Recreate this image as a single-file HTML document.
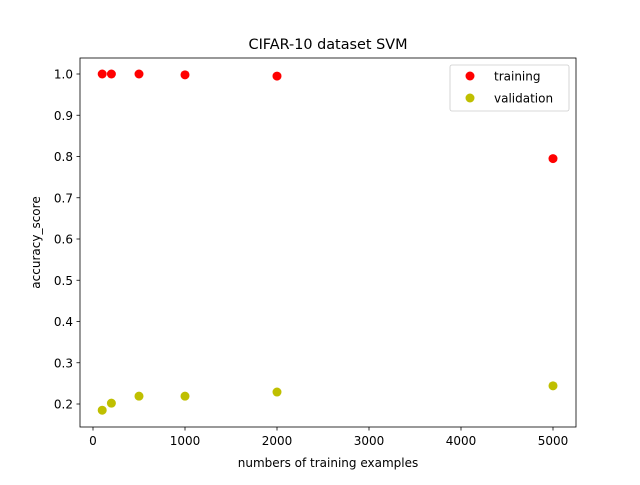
<!DOCTYPE html>
<html><head><meta charset="utf-8"><style>
body{margin:0;background:#fff;}
svg text{font-family:"DejaVu Sans","Liberation Sans",sans-serif;fill:#000;}
</style></head><body>
<svg id="chart" width="640" height="480" xmlns="http://www.w3.org/2000/svg">
<rect x="0" y="0" width="640" height="480" fill="#fff"/>
<text x="328" y="49" font-size="14.4" text-anchor="middle">CIFAR-10 dataset SVM</text>
<g id="axes"></g>
<rect x="80" y="58" width="496" height="369" fill="none" stroke="#000" stroke-width="0.8"/>
<text x="328" y="467" font-size="12" text-anchor="middle">numbers of training examples</text>
<text transform="translate(40,242.5) rotate(-90)" font-size="12" text-anchor="middle">accuracy_score</text>
<g>
<rect x="450" y="65" width="119" height="46" rx="2" fill="#fff" stroke="#ccc" stroke-width="0.8"/>
<circle cx="470" cy="76" r="4.5" fill="#ff0000"/>
<text x="494" y="80.5" font-size="12">training</text>
<circle cx="470" cy="98" r="4.5" fill="#bfbf00"/>
<text x="494" y="102.5" font-size="12">validation</text>
</g>
</svg>
<script>
const xValues=[100,200,500,1000,2000,5000];
const trainingScores=[1.0,1.0,1.0,0.998,0.995,0.795];
const validationScores=[0.185,0.202,0.219,0.219,0.229,0.244];
const xTicks=[0,1000,2000,3000,4000,5000];
const yTicks=[0.2,0.3,0.4,0.5,0.6,0.7,0.8,0.9,1.0];
const NS="http://www.w3.org/2000/svg";
function xs(v){return 93+v*0.092;}
function ys(v){return 404-(v-0.2)*412.5;}
const g=document.getElementById('axes');
function mk(t,a){const e=document.createElementNS(NS,t);for(const k in a)e.setAttribute(k,a[k]);g.appendChild(e);return e;}
xTicks.forEach(t=>{
 const l=mk('line',{x1:xs(t),x2:xs(t),y1:427,y2:430.5,stroke:'#000','stroke-width':0.8});
 
 
 const s=mk('text',{x:xs(t),y:445,'font-size':12,'text-anchor':'middle'});s.textContent=t;
 
 
});
yTicks.forEach(t=>{
 const l=mk('line',{x1:76.5,x2:80,y1:ys(t),y2:ys(t),stroke:'#000','stroke-width':0.8});
 
 
 const s=mk('text',{x:73,y:ys(t)+4.5,'font-size':12,'text-anchor':'end'});s.textContent=t.toFixed(1);
 
 
});
xValues.forEach((x,i)=>{
 const c=mk('circle',{cx:xs(x),cy:ys(trainingScores[i]),r:4.5,fill:'#ff0000'});
 
 
 const d=mk('circle',{cx:xs(x),cy:ys(validationScores[i]),r:4.5,fill:'#bfbf00'});
 
 
});
</script>
</body></html>
